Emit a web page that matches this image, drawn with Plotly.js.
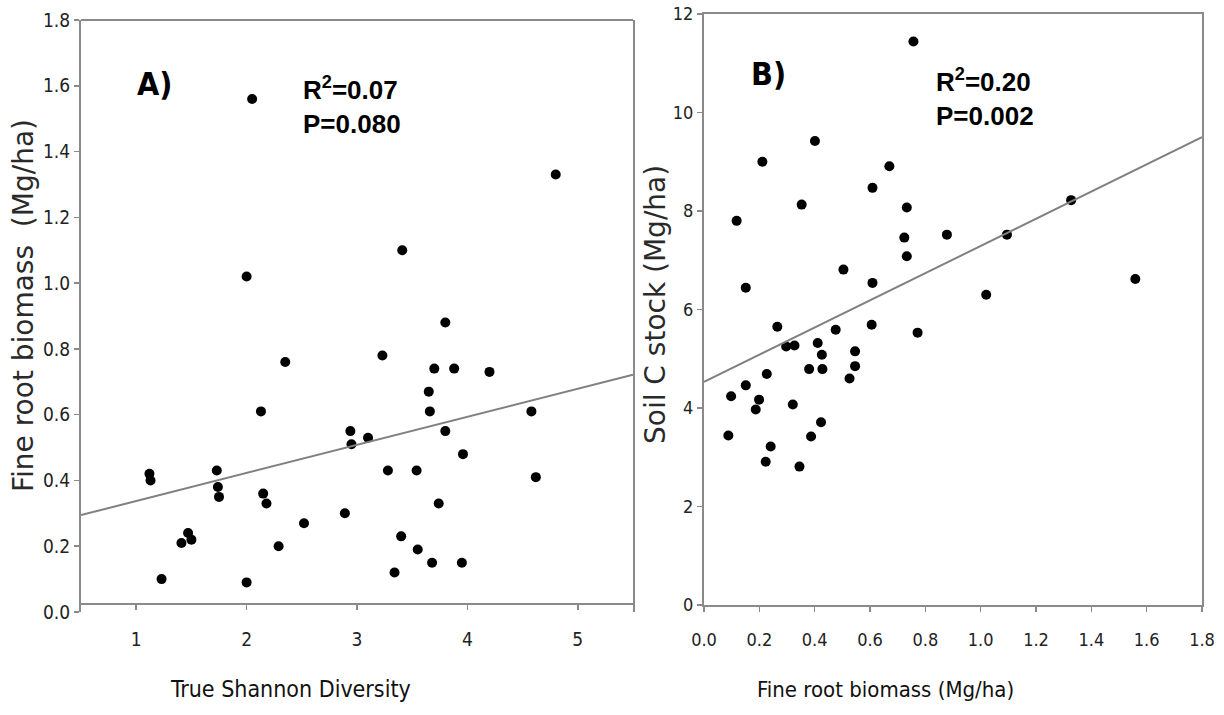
<!DOCTYPE html>
<html>
<head>
<meta charset="utf-8">
<script src="https://cdn.plot.ly/plotly-3.0.1.min.js"></script>
<style>html,body{margin:0;padding:0;background:#fff;}#chart{width:1224px;height:715px;}</style>
</head>
<body>
<div id="chart"></div>
<script>
// Panel A: True Shannon Diversity vs Fine root biomass
const diversityA = [2.05, 2.00, 4.80, 3.41, 3.80, 3.23, 2.35, 3.70, 3.88, 4.20, 3.65, 3.66, 4.58, 2.13, 3.80, 2.94, 2.95, 3.10, 3.96, 3.28, 3.54, 4.62, 3.74, 2.89, 2.52, 3.40, 3.55, 3.68, 3.95, 3.34, 2.29, 2.00, 1.23, 1.41, 1.47, 1.50, 1.12, 1.13, 1.73, 1.74, 1.75, 2.15, 2.18];
const rootBiomassA = [1.56, 1.02, 1.33, 1.10, 0.88, 0.78, 0.76, 0.74, 0.74, 0.73, 0.67, 0.61, 0.61, 0.61, 0.55, 0.55, 0.51, 0.53, 0.48, 0.43, 0.43, 0.41, 0.33, 0.30, 0.27, 0.23, 0.19, 0.15, 0.15, 0.12, 0.20, 0.09, 0.10, 0.21, 0.24, 0.22, 0.42, 0.40, 0.43, 0.38, 0.35, 0.36, 0.33];
const fitA = [0.252, 0.0854];          // intercept, slope
const rangeAx = [0.5, 5.5];
const rangeAy = [0, 1.8];
const ticksAx = [1, 2, 3, 4, 5];
const ticksAy = [0.0, 0.2, 0.4, 0.6, 0.8, 1.0, 1.2, 1.4, 1.6, 1.8];
const labelsAy = ["0.0", "0.2", "0.4", "0.6", "0.8", "1.0", "1.2", "1.4", "1.6", "1.8"];
const statsA = ["R<sup>2</sup>=0.07", "P=0.080"];

// Panel B: Fine root biomass vs Soil C stock
const rootBiomassB = [0.757, 0.401, 0.211, 0.670, 0.609, 0.353, 0.733, 0.118, 0.724, 0.733, 0.504, 0.609, 0.151, 0.265, 0.476, 0.606, 0.772, 0.297, 0.327, 0.411, 0.426, 0.546, 0.546, 0.526, 0.428, 0.380, 0.227, 0.151, 0.098, 0.199, 0.187, 0.321, 0.423, 0.387, 0.088, 0.241, 0.223, 0.345, 0.878, 1.095, 1.327, 1.020, 1.559];
const soilCB = [11.44, 9.42, 9.00, 8.91, 8.47, 8.13, 8.07, 7.80, 7.46, 7.08, 6.81, 6.54, 6.44, 5.65, 5.59, 5.69, 5.53, 5.25, 5.27, 5.32, 5.08, 5.15, 4.85, 4.60, 4.79, 4.79, 4.69, 4.46, 4.24, 4.17, 3.97, 4.07, 3.71, 3.42, 3.44, 3.22, 2.91, 2.81, 7.52, 7.52, 8.22, 6.30, 6.62];
const fitB = [4.53, 2.76];             // intercept, slope
const rangeBx = [0, 1.8];
const rangeBy = [0, 12];
const ticksBx = [0.0, 0.2, 0.4, 0.6, 0.8, 1.0, 1.2, 1.4, 1.6, 1.8];
const labelsBx = ["0.0", "0.2", "0.4", "0.6", "0.8", "1.0", "1.2", "1.4", "1.6", "1.8"];
const ticksBy = [0, 2, 4, 6, 8, 10, 12];
const statsB = ["R<sup>2</sup>=0.20", "P=0.002"];

const W = 1224, H = 715;
const px = v => v / W;
const py = v => 1 - v / H;

const NARROW = "'DejaVu Sans Condensed', 'Liberation Sans Narrow', sans-serif";
const WIDE = "'DejaVu Sans', Verdana, sans-serif";
const BOLD = "'Liberation Sans', Arial, sans-serif";
const axisGray = "#8a8a8a";

const traces = [
  {x: diversityA, y: rootBiomassA, type: "scatter", mode: "markers",
   marker: {color: "#000", size: 10}, xaxis: "x", yaxis: "y", hoverinfo: "skip"},
  {x: rangeAx, y: rangeAx.map(v => fitA[0] + fitA[1] * v), type: "scatter", mode: "lines",
   line: {color: "#808080", width: 2}, xaxis: "x", yaxis: "y", hoverinfo: "skip"},
  {x: rootBiomassB, y: soilCB, type: "scatter", mode: "markers",
   marker: {color: "#000", size: 10}, xaxis: "x2", yaxis: "y2", hoverinfo: "skip"},
  {x: rangeBx, y: rangeBx.map(v => fitB[0] + fitB[1] * v), type: "scatter", mode: "lines",
   line: {color: "#808080", width: 2}, xaxis: "x2", yaxis: "y2", hoverinfo: "skip"}
];

const axisCommon = {
  showgrid: false, zeroline: false, showline: true, linecolor: axisGray, linewidth: 2,
  ticks: "outside", ticklen: 5, tickwidth: 1.5, tickcolor: axisGray,
  tickfont: {family: NARROW, size: 19, color: "#222"}, fixedrange: true
};

const layout = {
  width: W, height: H,
  margin: {l: 0, r: 0, t: 0, b: 0},
  paper_bgcolor: "#fff", plot_bgcolor: "#fff",
  showlegend: false,
  xaxis: Object.assign({}, axisCommon, {
    domain: [px(81), px(633)], range: rangeAx, tickmode: "array", tickvals: ticksAx,
    anchor: "free", position: py(603.5), ticklabelstandoff: 14
  }),
  yaxis: Object.assign({}, axisCommon, {
    domain: [py(612), py(20)], range: rangeAy, tickmode: "array", tickvals: ticksAy,
    ticktext: labelsAy, anchor: "x", mirror: true
  }),
  xaxis2: Object.assign({}, axisCommon, {
    domain: [px(704), px(1202)], range: rangeBx, tickmode: "array", tickvals: ticksBx,
    ticktext: labelsBx, anchor: "y2", mirror: true, ticklabelstandoff: 12,
    tickfont: {family: NARROW, size: 18, color: "#222"}
  }),
  yaxis2: Object.assign({}, axisCommon, {
    domain: [py(605), py(14)], range: rangeBy, tickmode: "array", tickvals: ticksBy,
    anchor: "x2", mirror: true,
    tickfont: {family: NARROW, size: 18, color: "#222"}
  }),
  shapes: [
    {type: "line", xref: "paper", yref: "paper", x0: px(81), x1: px(633), y0: py(20), y1: py(20),
     line: {color: axisGray, width: 2}}
  ],
  annotations: [
    {text: "A)", xref: "paper", yref: "paper", x: px(154), y: py(84), xanchor: "center", yanchor: "middle",
     showarrow: false, font: {family: NARROW, size: 32, color: "#000", weight: "bold"}},
    {text: "B)", xref: "paper", yref: "paper", x: px(768), y: py(74), xanchor: "center", yanchor: "middle",
     showarrow: false, font: {family: NARROW, size: 32, color: "#000", weight: "bold"}},
    {text: statsA.join("<br>"), xref: "paper", yref: "paper", x: px(301), y: py(105), xanchor: "left", yanchor: "middle",
     align: "left", showarrow: false, font: {family: BOLD, size: 26, color: "#000", weight: "bold"}},
    {text: statsB.join("<br>"), xref: "paper", yref: "paper", x: px(934), y: py(97), xanchor: "left", yanchor: "middle",
     align: "left", showarrow: false, font: {family: BOLD, size: 26, color: "#000", weight: "bold"}},
    {text: "True Shannon Diversity", xref: "paper", yref: "paper", x: px(290), y: py(689), xanchor: "center", yanchor: "middle",
     showarrow: false, font: {family: NARROW, size: 23, color: "#111"}},
    {text: "Fine root biomass (Mg/ha)", xref: "paper", yref: "paper", x: px(885), y: py(689), xanchor: "center", yanchor: "middle",
     showarrow: false, font: {family: NARROW, size: 22, color: "#111"}},
    {text: "Fine root biomass  (Mg/ha)", xref: "paper", yref: "paper", x: px(23), y: py(306), xanchor: "center", yanchor: "middle",
     textangle: -90, showarrow: false, font: {family: WIDE, size: 28, color: "#2a2a2a"}},
    {text: "Soil C stock (Mg/ha)", xref: "paper", yref: "paper", x: px(655), y: py(305), xanchor: "center", yanchor: "middle",
     textangle: -90, showarrow: false, font: {family: WIDE, size: 28, color: "#2a2a2a"}}
  ]
};

Plotly.newPlot("chart", traces, layout, {staticPlot: true, displayModeBar: false});
</script>
</body>
</html>
